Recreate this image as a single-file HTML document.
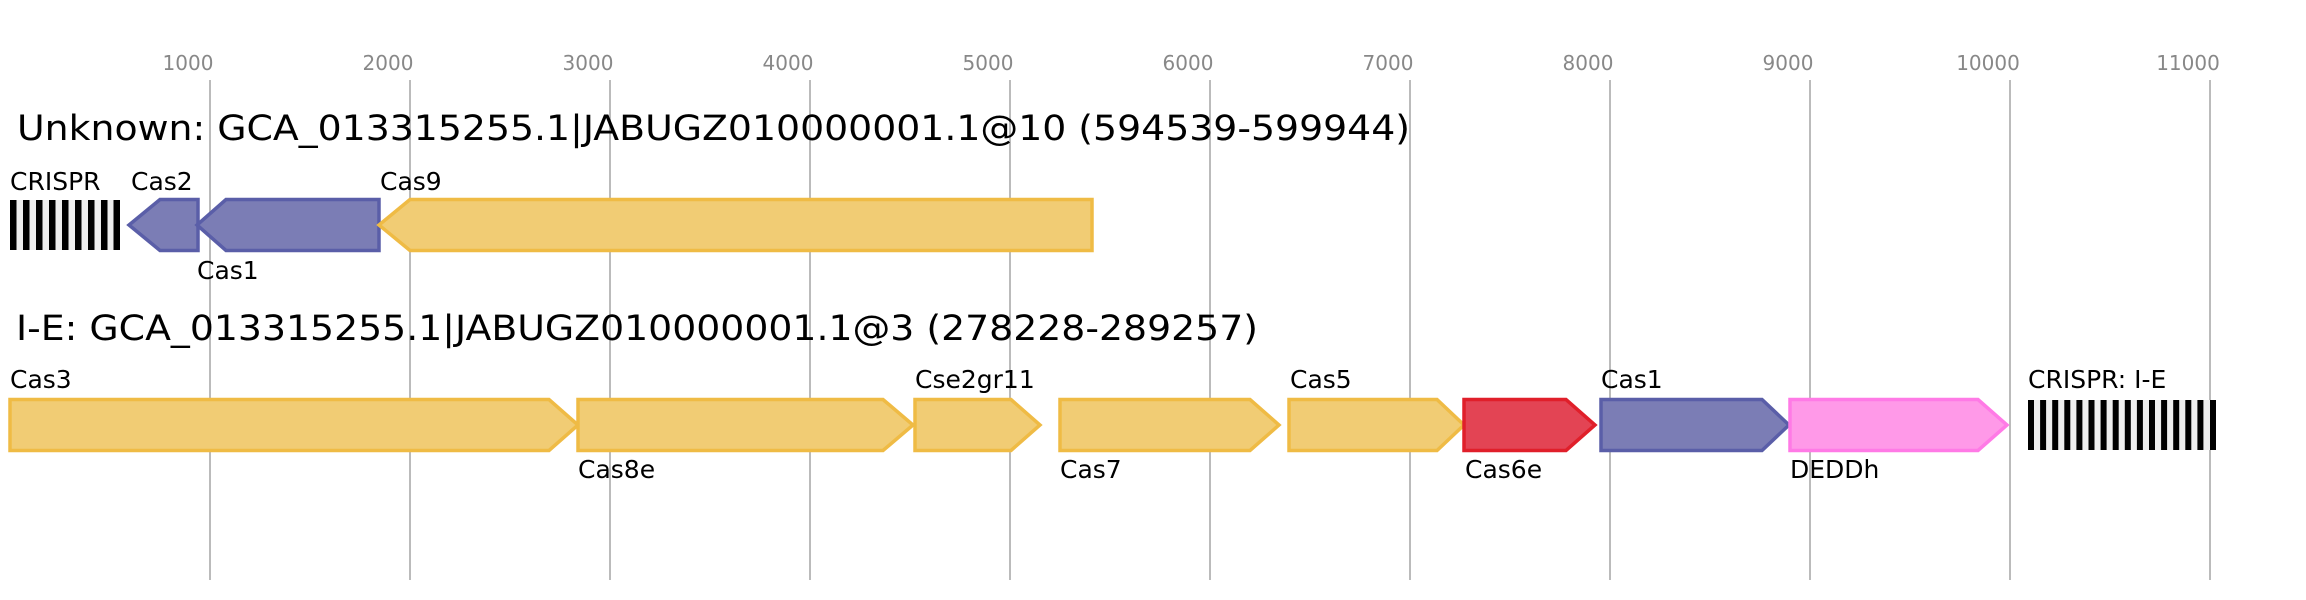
<!DOCTYPE html>
<html><head><meta charset="utf-8"><style>
html,body{margin:0;padding:0;background:#fff;}
svg{display:block;}
text{font-family:"DejaVu Sans","Liberation Sans",sans-serif;}
.t{font-size:25px;fill:#000;}
.tk{font-size:20px;fill:#888;text-anchor:middle;}
.ti{font-size:35px;fill:#000;}
.y{fill:#f1cc74;stroke:#efbb45;stroke-width:3.5;}
.p{fill:#7b7db5;stroke:#5a5ea8;stroke-width:3.5;}
.r{fill:#e34454;stroke:#e01f2a;stroke-width:3.5;}
.k{fill:#ff99e8;stroke:#ff7ae6;stroke-width:3.5;}
</style></head><body>
<svg width="2306" height="600" viewBox="0 0 2306 600" xmlns="http://www.w3.org/2000/svg">
<g stroke="#bbb" stroke-width="2">
<line x1="210" y1="80" x2="210" y2="580"/><line x1="410" y1="80" x2="410" y2="580"/>
<line x1="610" y1="80" x2="610" y2="580"/><line x1="810" y1="80" x2="810" y2="580"/>
<line x1="1010" y1="80" x2="1010" y2="580"/><line x1="1210" y1="80" x2="1210" y2="580"/>
<line x1="1410" y1="80" x2="1410" y2="580"/><line x1="1610" y1="80" x2="1610" y2="580"/>
<line x1="1810" y1="80" x2="1810" y2="580"/><line x1="2010" y1="80" x2="2010" y2="580"/>
<line x1="2210" y1="80" x2="2210" y2="580"/>
</g>
<g class="tk">
<text x="188" y="70">1000</text><text x="388" y="70">2000</text><text x="588" y="70">3000</text>
<text x="788" y="70">4000</text><text x="988" y="70">5000</text><text x="1188" y="70">6000</text>
<text x="1388" y="70">7000</text><text x="1588" y="70">8000</text><text x="1788" y="70">9000</text>
<text x="1988" y="70">10000</text><text x="2188" y="70">11000</text>
</g>
<text class="ti" x="17" y="140" textLength="1393" lengthAdjust="spacingAndGlyphs">Unknown: GCA_013315255.1|JABUGZ010000001.1@10 (594539-599944)</text>
<text class="ti" x="16" y="340" textLength="1242" lengthAdjust="spacingAndGlyphs">I-E: GCA_013315255.1|JABUGZ010000001.1@3 (278228-289257)</text>

<!-- row1 -->
<rect x="10" y="200" width="110" height="50" fill="#eee"/>
<g fill="#000">
<rect x="10" y="200" width="6.5" height="50"/><rect x="23" y="200" width="6.5" height="50"/><rect x="36" y="200" width="6.5" height="50"/>
<rect x="49" y="200" width="6.5" height="50"/><rect x="62" y="200" width="6.5" height="50"/><rect x="75" y="200" width="6.5" height="50"/>
<rect x="88" y="200" width="6.5" height="50"/><rect x="101" y="200" width="6.5" height="50"/><rect x="113.5" y="200" width="6.5" height="50"/>
</g>
<polygon class="p" points="198,199.5 160,199.5 129,225 160,250.5 198,250.5"/>
<polygon class="p" points="379,199.5 226,199.5 197,225 226,250.5 379,250.5"/>
<polygon class="y" points="1092,199.5 410,199.5 379,225 410,250.5 1092,250.5"/>
<text class="t" x="10" y="190">CRISPR</text>
<text class="t" x="131" y="190">Cas2</text>
<text class="t" x="197" y="279">Cas1</text>
<text class="t" x="380" y="190">Cas9</text>

<!-- row2 -->
<polygon class="y" points="10,399.5 549,399.5 578,425 549,450.5 10,450.5"/>
<polygon class="y" points="578,399.5 883,399.5 913,425 883,450.5 578,450.5"/>
<polygon class="y" points="915,399.5 1011,399.5 1040,425 1011,450.5 915,450.5"/>
<polygon class="y" points="1060,399.5 1250,399.5 1279,425 1250,450.5 1060,450.5"/>
<polygon class="y" points="1289,399.5 1437,399.5 1464,425 1437,450.5 1289,450.5"/>
<polygon class="r" points="1464,399.5 1566,399.5 1595,425 1566,450.5 1464,450.5"/>
<polygon class="p" points="1601,399.5 1762,399.5 1789,425 1762,450.5 1601,450.5"/>
<polygon class="k" points="1790,399.5 1978,399.5 2007,425 1978,450.5 1790,450.5"/>
<rect x="2028" y="400" width="188" height="50" fill="#eee"/>
<g fill="#000">
<rect x="2028" y="400" width="6" height="50"/><rect x="2040.1" y="400" width="6" height="50"/><rect x="2052.2" y="400" width="6" height="50"/>
<rect x="2064.3" y="400" width="6" height="50"/><rect x="2076.4" y="400" width="6" height="50"/><rect x="2088.5" y="400" width="6" height="50"/>
<rect x="2100.6" y="400" width="6" height="50"/><rect x="2112.7" y="400" width="6" height="50"/><rect x="2124.8" y="400" width="6" height="50"/>
<rect x="2136.9" y="400" width="6" height="50"/><rect x="2149" y="400" width="6" height="50"/><rect x="2161.1" y="400" width="6" height="50"/>
<rect x="2173.2" y="400" width="6" height="50"/><rect x="2185.3" y="400" width="6" height="50"/><rect x="2197.4" y="400" width="6" height="50"/>
<rect x="2210" y="400" width="6" height="50"/>
</g>
<text class="t" x="10" y="388">Cas3</text>
<text class="t" x="578" y="478">Cas8e</text>
<text class="t" x="915" y="388">Cse2gr11</text>
<text class="t" x="1060" y="478">Cas7</text>
<text class="t" x="1290" y="388">Cas5</text>
<text class="t" x="1465" y="478">Cas6e</text>
<text class="t" x="1601" y="388">Cas1</text>
<text class="t" x="1790" y="478">DEDDh</text>
<text class="t" x="2028" y="388">CRISPR: I-E</text>
</svg>
</body></html>
